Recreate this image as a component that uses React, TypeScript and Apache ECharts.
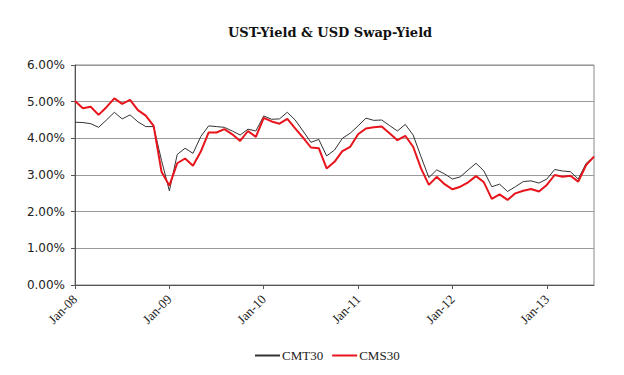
import React, { useEffect, useRef } from "react";
import * as echarts from "echarts";

const years = ["08", "09", "10", "11", "12", "13"];
const months = ["Jan", "Feb", "Mar", "Apr", "May", "Jun", "Jul", "Aug", "Sep", "Oct", "Nov", "Dec"];
const categories: string[] = [];
for (const y of years) {
  for (const m of months) {
    if (categories.length < 67) categories.push(`${m}-${y}`);
  }
}

const cmt30 = [
  4.44, 4.43, 4.40, 4.30, 4.50, 4.71, 4.53, 4.64, 4.45, 4.32, 4.32, 3.40,
  2.57, 3.56, 3.73, 3.59, 4.05, 4.34, 4.32, 4.30, 4.20, 4.09, 4.25, 4.20,
  4.61, 4.52, 4.53, 4.71, 4.50, 4.20, 3.89, 3.97, 3.52, 3.68, 4.00, 4.14,
  4.34, 4.55, 4.49, 4.50, 4.35, 4.20, 4.38, 4.09, 3.50, 2.93, 3.14, 3.03,
  2.89, 2.95, 3.14, 3.32, 3.11, 2.68, 2.75, 2.55, 2.68, 2.82, 2.84, 2.78,
  2.89, 3.15, 3.11, 3.09, 2.89, 3.32, 3.50,
];

const cms30 = [
  5.02, 4.82, 4.86, 4.64, 4.85, 5.09, 4.94, 5.05, 4.77, 4.62, 4.34, 3.09,
  2.71, 3.32, 3.45, 3.25, 3.64, 4.16, 4.16, 4.25, 4.11, 3.93, 4.20, 4.04,
  4.56, 4.46, 4.40, 4.53, 4.27, 4.02, 3.75, 3.73, 3.18, 3.36, 3.65, 3.77,
  4.11, 4.27, 4.30, 4.32, 4.14, 3.95, 4.07, 3.77, 3.18, 2.73, 2.95, 2.75,
  2.61, 2.68, 2.80, 2.97, 2.80, 2.35, 2.47, 2.32, 2.50, 2.57, 2.62, 2.55,
  2.73, 3.00, 2.95, 2.98, 2.82, 3.27, 3.50,
];

const yTicks = [0, 1, 2, 3, 4, 5, 6];

export default function App() {
  const ref = useRef<HTMLDivElement>(null);
  useEffect(() => {
    if (!ref.current) return;
    const chart = echarts.init(ref.current, null, { renderer: "svg" });
    const showIdx = (i: number) => i % 12 === 0;
    chart.setOption({
      animation: false,
      backgroundColor: "#ffffff",
      title: {
        text: "UST-Yield & USD Swap-Yield",
        left: 223,
        top: 21,
        textStyle: {
          fontFamily: "DejaVu Serif",
          fontWeight: "bold",
          fontSize: 13,
          color: "#111",
        },
      },
      legend: {
        bottom: 8,
        left: 250,
        itemWidth: 25,
        itemHeight: 2,
        itemGap: 9,
        icon: "rect",
        textStyle: { fontFamily: "Liberation Serif", fontSize: 13, color: "#222", padding: [0, 0, 0, -3] },
        data: ["CMT30", "CMS30"],
      },
      grid: {
        left: 75,
        right: 30,
        top: 65,
        bottom: 90,
        show: true,
        borderColor: "#888",
        borderWidth: 1,
      },
      xAxis: {
        type: "category",
        data: categories,
        boundaryGap: false,
        axisLine: { lineStyle: { color: "#555", width: 1 } },
        axisTick: { interval: (i: number) => showIdx(i), length: 4, lineStyle: { color: "#555" } },
        axisLabel: {
          interval: (i: number) => showIdx(i),
          rotate: 45,
          fontFamily: "Liberation Serif",
          fontSize: 13,
          color: "#222",
          margin: 12,
        },
      },
      yAxis: {
        type: "value",
        min: 0,
        max: 6,
        interval: 1,
        axisLine: { show: true, lineStyle: { color: "#555", width: 1 } },
        axisTick: { show: true, length: 4, lineStyle: { color: "#555" } },
        splitLine: { lineStyle: { color: "#999", width: 1 } },
        axisLabel: {
          formatter: (v: number) => (yTicks.includes(v) ? v.toFixed(2) + "%" : ""),
          fontFamily: "DejaVu Sans",
          fontSize: 12,
          color: "#222",
          margin: 10,
        },
      },
      series: [
        {
          name: "CMT30",
          type: "line",
          data: cmt30,
          symbol: "none",
          itemStyle: { color: "#333" },
          lineStyle: { color: "#333", width: 1 },
        },
        {
          name: "CMS30",
          type: "line",
          data: cms30,
          symbol: "none",
          itemStyle: { color: "#e8141b" },
          lineStyle: { color: "#e8141b", width: 2 },
        },
      ],
    });
    return () => chart.dispose();
  }, []);
  return <div ref={ref} style={{ width: 624, height: 375, margin: -8 }} />;
}
